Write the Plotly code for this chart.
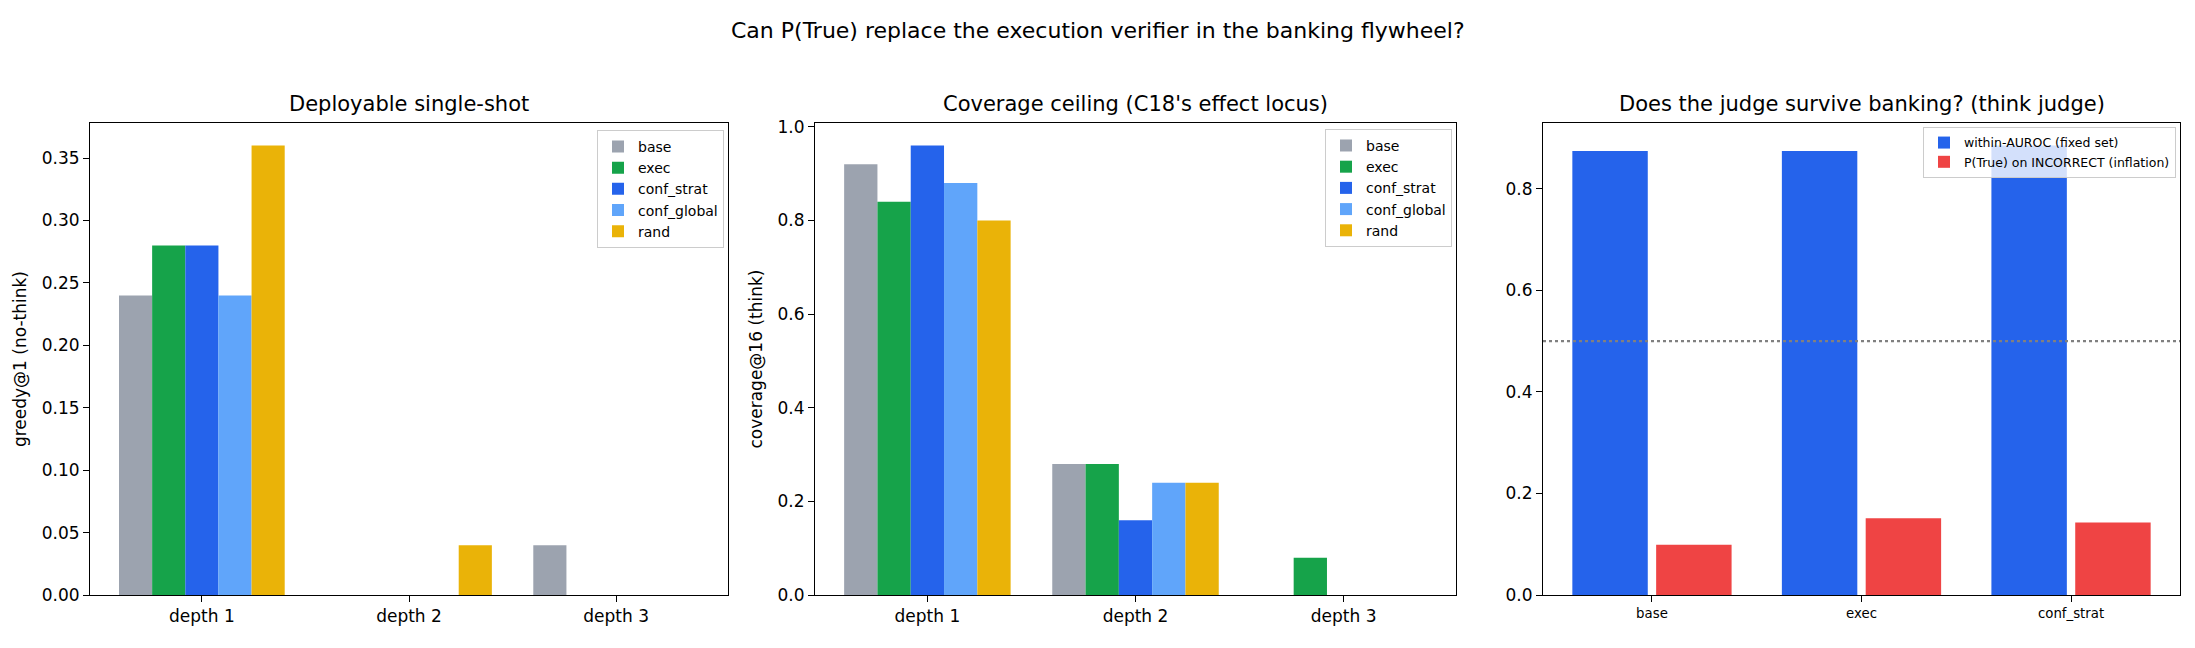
import plotly.graph_objects as go
from plotly.subplots import make_subplots

# ---- data ----
depths = ["depth 1", "depth 2", "depth 3"]
arms = ["base", "exec", "conf_strat", "conf_global", "rand"]
arm_colors = ["#9ca3af", "#16a34a", "#2563eb", "#60a5fa", "#eab308"]

# greedy@1 (no-think), per arm, per depth
greedy_base = [0.24, 0.0, 0.04]
greedy_exec = [0.28, 0.0, 0.0]
greedy_conf_strat = [0.28, 0.0, 0.0]
greedy_conf_global = [0.24, 0.0, 0.0]
greedy_rand = [0.36, 0.04, 0.0]

# coverage@16 (think), per arm, per depth
cov_base = [0.92, 0.28, 0.0]
cov_exec = [0.84, 0.28, 0.08]
cov_conf_strat = [0.96, 0.16, 0.0]
cov_conf_global = [0.88, 0.24, 0.0]
cov_rand = [0.80, 0.24, 0.0]

# judge panel
judge_arms = ["base", "exec", "conf_strat"]
within_auroc = [0.874, 0.874, 0.885]
ptrue_incorrect = [0.099, 0.151, 0.143]
chance_level = 0.5

greedy = [greedy_base, greedy_exec, greedy_conf_strat, greedy_conf_global, greedy_rand]
coverage = [cov_base, cov_exec, cov_conf_strat, cov_conf_global, cov_rand]

FONT = "DejaVu Sans"
W, H = 2195, 648


def xp(px):
    """pixel -> paper x"""
    return px / W


def yp(py):
    """pixel (from top) -> paper y"""
    return 1 - py / H


fig = make_subplots(rows=1, cols=3)

# grouped bars: 5 arms, each 0.16 wide, group spans 0.8
bw = 0.16
for i, arm in enumerate(arms):
    off = -0.4 + i * bw
    fig.add_trace(go.Bar(x=depths, y=greedy[i], name=arm, marker_color=arm_colors[i],
                         marker_line_width=0, width=bw, offset=off, legend="legend"),
                  row=1, col=1)
    fig.add_trace(go.Bar(x=depths, y=coverage[i], name=arm, marker_color=arm_colors[i],
                         marker_line_width=0, width=bw, offset=off, legend="legend2"),
                  row=1, col=2)

fig.add_trace(go.Bar(x=judge_arms, y=within_auroc, name="within-AUROC (fixed set)",
                     marker_color="#2563eb", marker_line_width=0, width=0.36, offset=-0.38,
                     legend="legend3"), row=1, col=3)
fig.add_trace(go.Bar(x=judge_arms, y=ptrue_incorrect, name="P(True) on INCORRECT (inflation)",
                     marker_color="#ef4444", marker_line_width=0, width=0.36, offset=0.02,
                     legend="legend3"), row=1, col=3)

fig.add_hline(y=chance_level, line=dict(color="#808080", width=2.2, dash="dot"), row=1, col=3)

# axes placement (matched to reference pixels)
y_dom = [yp(604), yp(120)]
x_doms = [[xp(90), xp(728)], [xp(815), xp(1456)], [xp(1543), xp(2180)]]

axis_style = dict(showline=True, mirror=True, linecolor="black", linewidth=1,
                  ticks="outside", ticklen=6, tickcolor="black", showgrid=False,
                  zeroline=False, tickfont=dict(family=FONT, size=17, color="black"))

fig.update_layout(
    xaxis=dict(domain=x_doms[0], range=[-0.54, 2.54], **axis_style),
    xaxis2=dict(domain=x_doms[1], range=[-0.54, 2.54], **axis_style),
    xaxis3=dict(domain=x_doms[2], range=[-0.52, 2.52], **axis_style),
    yaxis=dict(domain=y_dom, range=[0, 0.378], dtick=0.05, tickformat=".2f", **axis_style),
    yaxis2=dict(domain=y_dom, range=[0, 1.008], dtick=0.2, tickformat=".1f", **axis_style),
    yaxis3=dict(domain=y_dom, range=[0, 0.929], dtick=0.2, tickformat=".1f", **axis_style),
)
fig.update_xaxes(tickfont=dict(size=13.3), row=1, col=3)
fig.update_yaxes(title=dict(text="greedy@1 (no-think)", font=dict(family=FONT, size=17, color="black"),
                            standoff=10), row=1, col=1)
fig.update_yaxes(title=dict(text="coverage@16 (think)", font=dict(family=FONT, size=17, color="black"),
                            standoff=10), row=1, col=2)

legend_style = dict(bgcolor="rgba(255,255,255,0.8)", bordercolor="#cccccc", borderwidth=1,
                    xanchor="right", yanchor="top", itemwidth=30, tracegroupgap=0)

title_font = dict(family=FONT, size=21, color="black")
fig.update_layout(
    barmode="overlay",
    width=W, height=H,
    margin=dict(l=0, r=0, t=0, b=0),
    plot_bgcolor="white", paper_bgcolor="white",
    font=dict(family=FONT, color="black"),
    legend=dict(x=xp(724), y=yp(127), font=dict(size=14, family=FONT), **legend_style),
    legend2=dict(x=xp(1452), y=yp(126), font=dict(size=14, family=FONT), **legend_style),
    legend3=dict(x=xp(2176), y=yp(124), font=dict(size=12.5, family=FONT), **legend_style),
    annotations=[
        dict(text="Can P(True) replace the execution verifier in the banking flywheel?",
             x=0.5, y=yp(25), xref="paper", yref="paper", showarrow=False,
             font=dict(family=FONT, size=22, color="black"), xanchor="center", yanchor="middle"),
        dict(text="Deployable single-shot", x=sum(x_doms[0]) / 2, y=yp(100),
             xref="paper", yref="paper", showarrow=False, font=title_font,
             xanchor="center", yanchor="middle"),
        dict(text="Coverage ceiling (C18's effect locus)", x=sum(x_doms[1]) / 2, y=yp(100),
             xref="paper", yref="paper", showarrow=False, font=title_font,
             xanchor="center", yanchor="middle"),
        dict(text="Does the judge survive banking? (think judge)", x=sum(x_doms[2]) / 2,
             y=yp(100), xref="paper", yref="paper", showarrow=False, font=title_font,
             xanchor="center", yanchor="middle"),
    ],
)

# drop the page's default body margin so the figure sits at the window origin
fig.write_html("out.html", config={"displayModeBar": False},
               post_script="document.body.style.margin='0';")
